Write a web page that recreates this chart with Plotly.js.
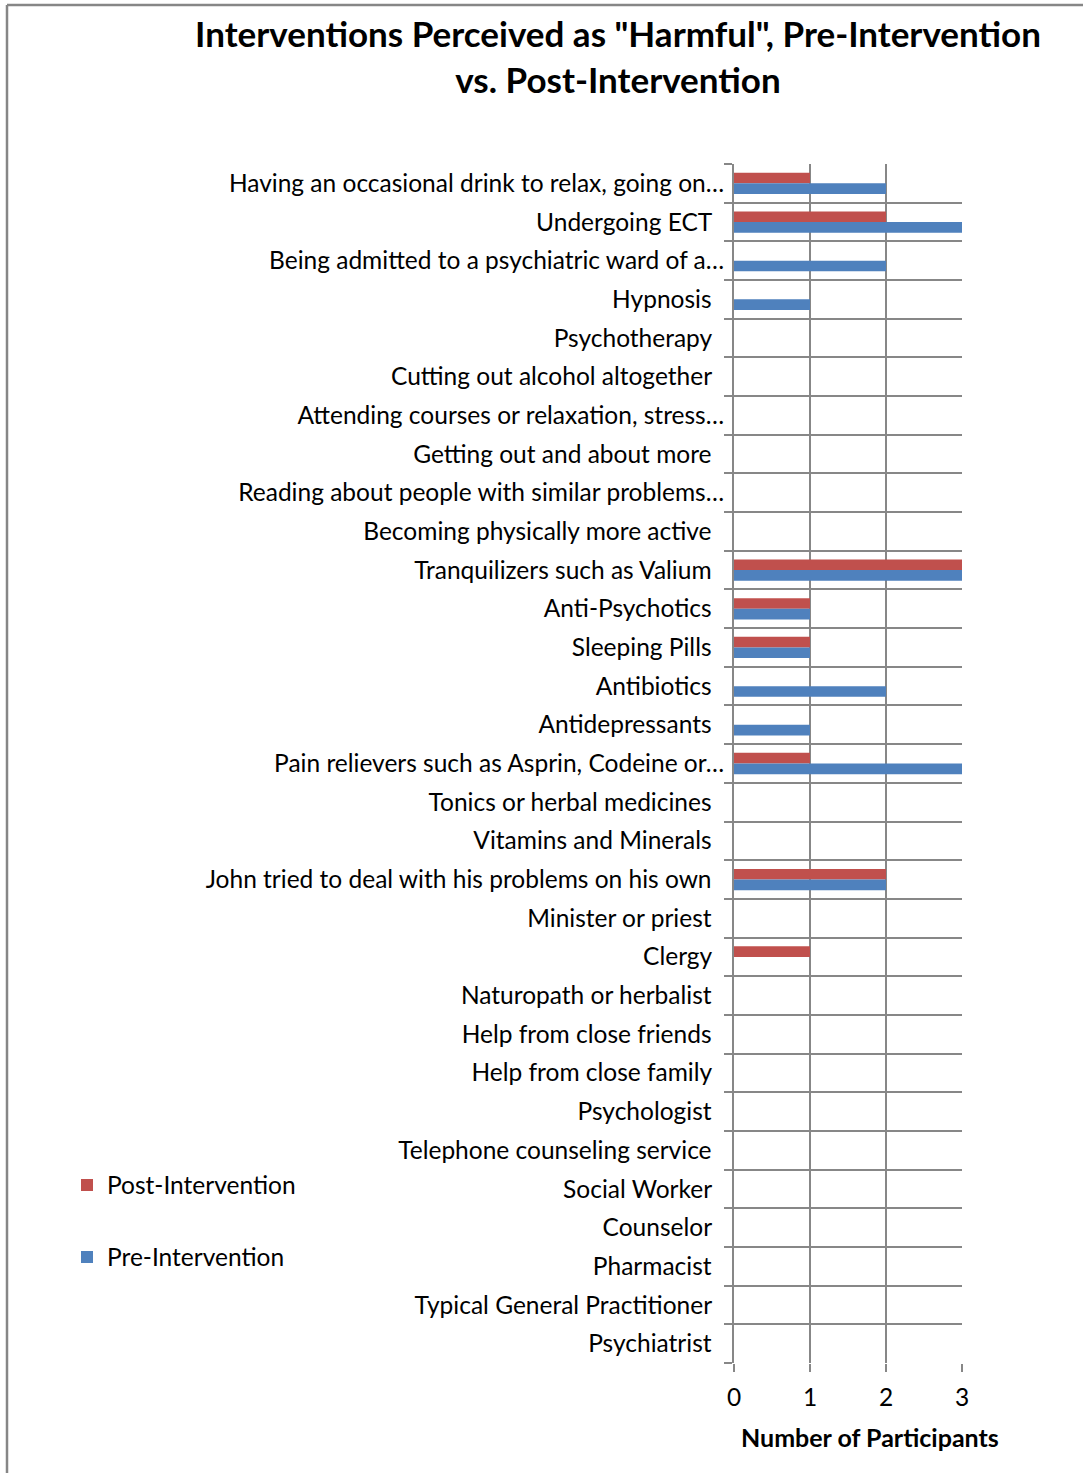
<!DOCTYPE html>
<html>
<head>
<meta charset="utf-8">
<script src="https://cdn.plot.ly/plotly-3.0.1.min.js"></script>
<style>
  html, body { margin: 0; padding: 0; background: #fff; }
  #chart { width: 1083px; height: 1473px; }
</style>
</head>
<body>
<div id="chart"></div>
<script>
// Interventions, listed from top to bottom of the chart
const categories = [
  "Having an occasional drink to relax, going on…",
  "Undergoing ECT",
  "Being admitted to a psychiatric ward of a…",
  "Hypnosis",
  "Psychotherapy",
  "Cutting out alcohol altogether",
  "Attending courses or relaxation, stress…",
  "Getting out and about more",
  "Reading about people with similar problems…",
  "Becoming physically more active",
  "Tranquilizers such as Valium",
  "Anti-Psychotics",
  "Sleeping Pills",
  "Antibiotics",
  "Antidepressants",
  "Pain relievers such as Asprin, Codeine or…",
  "Tonics or herbal medicines",
  "Vitamins and Minerals",
  "John tried to deal with his problems on his own",
  "Minister or priest",
  "Clergy",
  "Naturopath or herbalist",
  "Help from close friends",
  "Help from close family",
  "Psychologist",
  "Telephone counseling service",
  "Social Worker",
  "Counselor",
  "Pharmacist",
  "Typical General Practitioner",
  "Psychiatrist"
];

const postIntervention = [1, 2, 0, 0, 0, 0, 0, 0, 0, 0, 3, 1, 1, 0, 0, 1, 0, 0, 2, 0, 1, 0, 0, 0, 0, 0, 0, 0, 0, 0, 0];
const preIntervention  = [2, 3, 2, 1, 0, 0, 0, 0, 0, 0, 3, 1, 1, 2, 1, 3, 0, 0, 2, 0, 0, 0, 0, 0, 0, 0, 0, 0, 0, 0, 0];

const xTicks = [0, 1, 2, 3];

// Page geometry (pixels)
const W = 1083, H = 1473;
const M = { l: 734, r: 121, t: 164, b: 110, autoexpand: false };
const plotW = W - M.l - M.r, plotH = H - M.t - M.b;
const px = x => (x - M.l) / plotW;
const py = y => (H - M.b - y) / plotH;

const RED = "#C0504D", BLUE = "#4F81BD", GRID = "#878787";
const FONT = "Lato, 'Open Sans', sans-serif";
const LABEL_SIZE = 24.5;

// Non-truncated labels keep a little breathing room before the axis
const tickText = categories.map(c => c.endsWith("…") ? c : c + "\u00a0\u00a0");

const traces = [
  {
    type: "bar", orientation: "h", name: "Post-Intervention",
    y: categories, x: postIntervention,
    marker: { color: RED }, legend: "legend",
    hoverinfo: "x+y"
  },
  {
    type: "bar", orientation: "h", name: "Pre-Intervention",
    y: categories, x: preIntervention,
    marker: { color: BLUE }, legend: "legend2",
    hoverinfo: "x+y"
  }
];

const legendBox = yPix => ({
  xref: "container", yref: "container",
  x: 67 / W, xanchor: "left", y: 1 - yPix / H, yanchor: "middle",
  bgcolor: "rgba(0,0,0,0)", font: { size: LABEL_SIZE }, itemwidth: 30
});

const layout = {
  width: W, height: H,
  margin: M,
  paper_bgcolor: "#fff", plot_bgcolor: "#fff",
  font: { family: FONT, size: LABEL_SIZE, color: "#000" },
  barmode: "group", bargap: 0.45, bargroupgap: 0,
  title: {
    text: "<b>Interventions Perceived as \"Harmful\", Pre-Intervention<br>vs. Post-Intervention</b>",
    font: { family: FONT, size: 35, color: "#000" },
    x: 618 / W, xref: "container", xanchor: "center",
    y: 1 - 47 / H, yref: "container", yanchor: "middle"
  },
  xaxis: {
    range: [0, 3], tickvals: xTicks, ticktext: xTicks.map(String),
    showgrid: true, gridcolor: GRID, gridwidth: 2,
    zeroline: false, showline: false,
    ticks: "outside", ticklen: 8, tickwidth: 2, tickcolor: GRID,
    ticklabelstandoff: 5,
    tickfont: { size: LABEL_SIZE }, fixedrange: true
  },
  yaxis: {
    type: "category", autorange: "reversed",
    tickvals: categories, ticktext: tickText,
    tickson: "boundaries",
    showgrid: true, gridcolor: GRID, gridwidth: 2,
    showline: true, linecolor: GRID, linewidth: 2,
    ticks: "outside", ticklen: 8, tickwidth: 2, tickcolor: GRID,
    ticklabelstandoff: 3,
    tickfont: { size: LABEL_SIZE }, fixedrange: true
  },
  showlegend: true,
  legend: legendBox(1185),
  legend2: legendBox(1257),
  annotations: [
    {
      text: "<b>Number of Participants</b>", showarrow: false,
      xref: "paper", yref: "paper", x: px(870), y: py(1437),
      xanchor: "center", yanchor: "middle",
      font: { family: FONT, size: 25, color: "#000" }
    }
  ],
  shapes: [
    // outer frame of the chart area
    { type: "line", xref: "paper", yref: "paper",
      x0: px(7), x1: px(7), y0: py(5), y1: py(H + 10),
      line: { color: "#868686", width: 2.5 } },
    { type: "line", xref: "paper", yref: "paper",
      x0: px(7), x1: px(W + 10), y0: py(5), y1: py(5),
      line: { color: "#868686", width: 2.5 } }
  ]
};

Plotly.newPlot("chart", traces, layout, { displayModeBar: false, staticPlot: true });
</script>
</body>
</html>
